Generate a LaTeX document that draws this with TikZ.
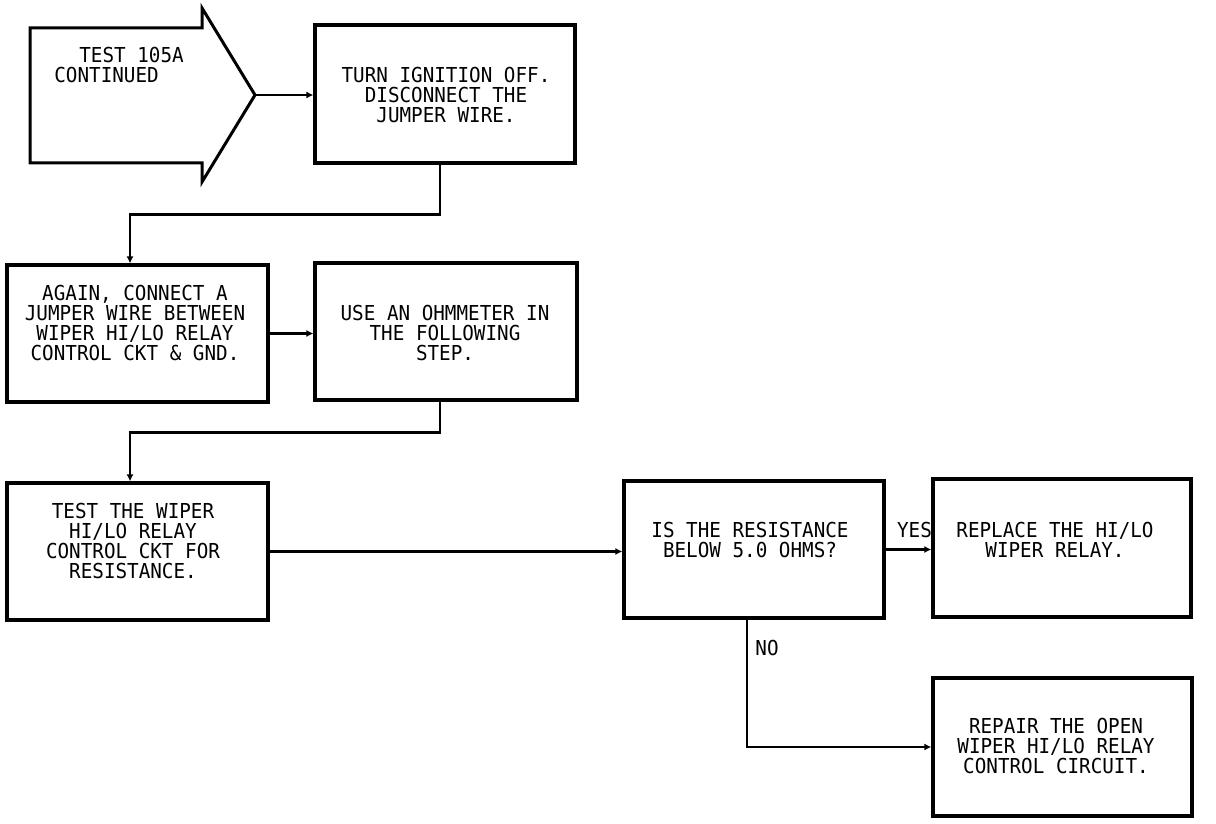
\documentclass[tikz,border=0pt]{standalone}
\usepackage{fontspec}
\newfontfamily\plotfont[FakeStretch=0.935]{DejaVu Sans Mono}
\usetikzlibrary{arrows.meta}
\begin{document}
\begin{tikzpicture}[x=0.5pt,y=-0.5pt,
  box/.style={draw, line width=1.6pt, rectangle, inner sep=0pt},
  txt/.style={font=\plotfont\fontsize{10.3pt}{10pt}\selectfont, align=center, inner sep=0pt, anchor=north},
  lbl/.style={font=\plotfont\fontsize{10.3pt}{10pt}\selectfont, inner sep=0pt},
  conn/.style={line width=1.4pt},
  arr/.style={conn, -{Latex[length=3.5pt,width=3.5pt]}}]
\useasboundingbox (0,0) rectangle (1216,824);
% start arrow
\draw[line width=1.5pt, line join=miter] (30,28) -- (202,28) -- (202,8) -- (255,95) -- (202,182) -- (202,163) -- (30,163) -- cycle;
\coordinate (tip) at (255,95);
\node[txt, align=left, anchor=north west] (start) at (54,47) {\hspace{12.5pt}TEST 105A\\CONTINUED};
% boxes
\node[box, minimum width=130pt, minimum height=69pt] (b1) at (445,94) {};
\node[box, minimum width=130.5pt, minimum height=68.5pt] (b2) at (137.5,333.5) {};
\node[box, minimum width=131pt, minimum height=68.5pt] (b3) at (446,331.5) {};
\node[box, minimum width=130.5pt, minimum height=68.5pt] (b4) at (137.5,551.5) {};
\node[box, minimum width=130pt, minimum height=68.5pt] (b5) at (754,549.5) {};
\node[box, minimum width=129pt, minimum height=69pt] (b6) at (1062,548) {};
\node[box, minimum width=129.5pt, minimum height=69pt] (b7) at (1062.5,747) {};
% texts
\node[txt] (t1) at (446,67) {TURN IGNITION OFF.\\DISCONNECT THE\\JUMPER WIRE.};
\node[txt] (t2) at (135,285) {AGAIN, CONNECT A\\JUMPER WIRE BETWEEN\\WIPER HI/LO RELAY\\CONTROL CKT \& GND.};
\node[txt] (t3) at (445,305) {USE AN OHMMETER IN\\THE FOLLOWING\\STEP.};
\node[txt] (t4) at (133,503) {TEST THE WIPER\\HI/LO RELAY\\CONTROL CKT FOR\\RESISTANCE.};
\node[txt] (t5) at (750,522) {IS THE RESISTANCE\\BELOW 5.0 OHMS?};
\node[txt] (t6) at (1055,522) {REPLACE THE HI/LO\\WIPER RELAY.};
\node[txt] (t7) at (1056,718) {REPAIR THE OPEN\\WIPER HI/LO RELAY\\CONTROL CIRCUIT.};
% connectors
\draw[arr] (tip) -- (tip -| b1.west);
\draw[arr] ([xshift=-2.5pt]b1.south) -- ++(0,50) -| ([xshift=-3.75pt]b2.north);
\draw[arr] (b2.east) -- (b2.east -| b3.west);
\draw[arr] ([xshift=-3pt]b3.south) -- ++(0,31) -| ([xshift=-3.75pt]b4.north);
\draw[arr] (b4.east) -- (b4.east -| b5.west);
\draw[arr] (b5.east) -- (b5.east -| b6.west);
\draw[arr] ([xshift=-3.5pt]b5.south) |- (b7.west);
\node[lbl, anchor=base] (yes) at (914.5,537) {YES};
\node[lbl, anchor=base west] (no) at (755,655) {NO};
\end{tikzpicture}
\end{document}
